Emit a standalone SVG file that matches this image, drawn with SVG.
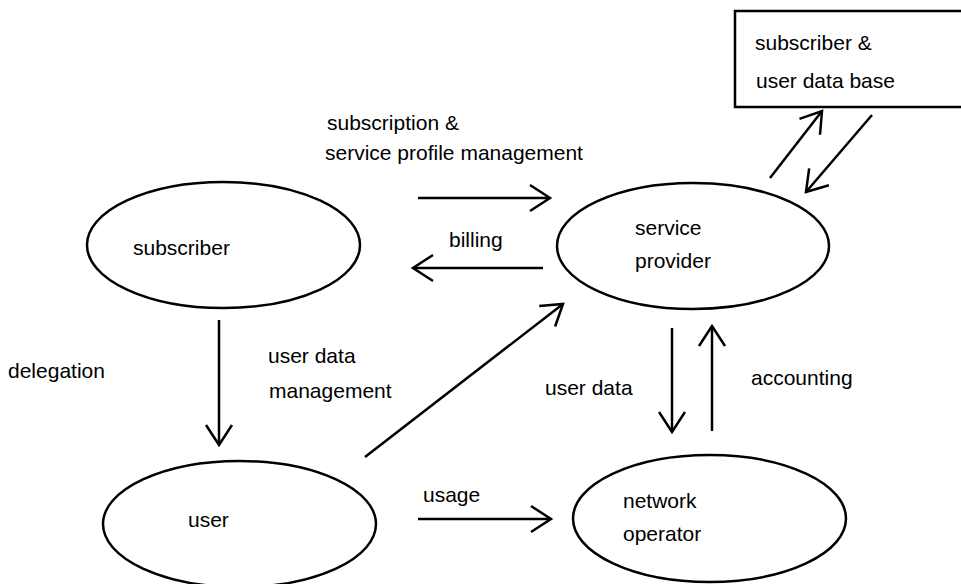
<svg xmlns="http://www.w3.org/2000/svg" width="961" height="584" viewBox="0 0 961 584">
  <defs>
    <style>
      text { font-family: "Liberation Sans", Arial, sans-serif; font-size: 21px; fill: #000; }
      .shape { fill: #fff; stroke: #000; stroke-width: 2.5; }
      .edge { fill: none; stroke: #000; stroke-width: 2.5; marker-end: url(#arrow); }
    </style>
    <marker id="arrow" markerUnits="userSpaceOnUse" markerWidth="30" markerHeight="30" refX="22" refY="15" orient="auto" overflow="visible">
      <path d="M2,2 L22,15 L2,28" fill="none" stroke="#000" stroke-width="2.5"/>
    </marker>
  </defs>
  <rect width="961" height="584" fill="#fff"/>

  <g id="connectors">
    <line class="edge" x1="418" y1="198" x2="550" y2="198"/>
    <line class="edge" x1="543" y1="268" x2="413" y2="268"/>
    <line class="edge" x1="770" y1="178" x2="822" y2="111"/>
    <line class="edge" x1="872" y1="115" x2="806" y2="192"/>
    <line class="edge" x1="219" y1="320" x2="219" y2="445"/>
    <line class="edge" x1="365" y1="457" x2="563" y2="304"/>
    <line class="edge" x1="672" y1="328" x2="672" y2="432"/>
    <line class="edge" x1="712" y1="431" x2="712" y2="326"/>
    <line class="edge" x1="418" y1="519" x2="551" y2="519"/>
  </g>

  <g id="database">
    <rect class="shape" x="735" y="11" width="230" height="96"/>
    <text x="755" y="50">subscriber &amp;</text>
    <text x="756" y="88">user data base</text>
  </g>

  <g id="subscriber">
    <ellipse class="shape" cx="223.5" cy="245" rx="136.5" ry="63"/>
    <text x="133" y="255">subscriber</text>
  </g>

  <g id="service-provider">
    <ellipse class="shape" cx="693" cy="246" rx="136" ry="63"/>
    <text x="635" y="235">service</text>
    <text x="635" y="268">provider</text>
  </g>

  <g id="user">
    <ellipse class="shape" cx="239.5" cy="524" rx="136.5" ry="63"/>
    <text x="188" y="527">user</text>
  </g>

  <g id="network-operator">
    <ellipse class="shape" cx="709.5" cy="518.5" rx="136.5" ry="63.5"/>
    <text x="623" y="508">network</text>
    <text x="623" y="541">operator</text>
  </g>

  <g id="labels">
    <text x="327" y="130">subscription &amp;</text>
    <text x="325" y="160">service profile management</text>
    <text x="449" y="247">billing</text>
    <text x="8" y="378">delegation</text>
    <text x="268" y="363">user data</text>
    <text x="269" y="398">management</text>
    <text x="545" y="395">user data</text>
    <text x="751" y="385">accounting</text>
    <text x="423" y="502">usage</text>
  </g>
</svg>
